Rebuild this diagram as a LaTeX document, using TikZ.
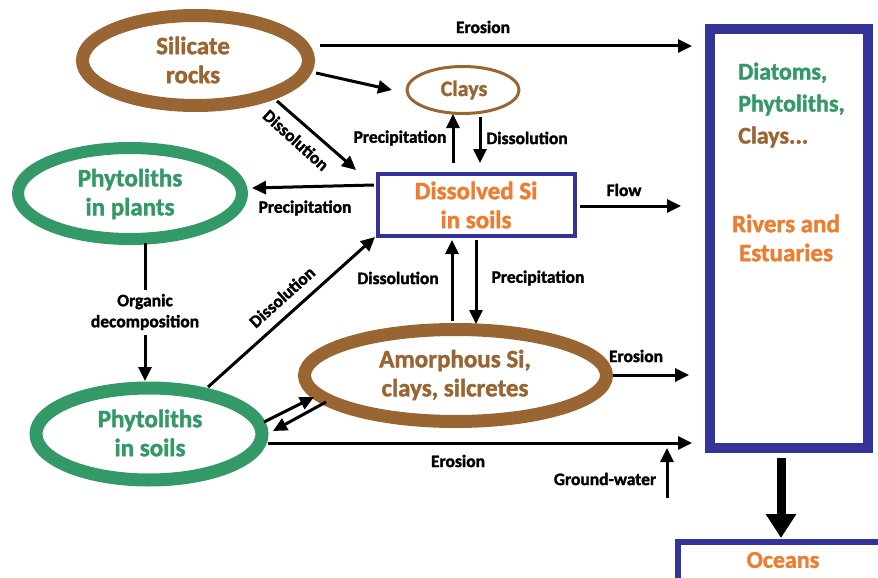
\documentclass[tikz,border=0pt]{standalone}
\usepackage{fontspec}
\setmainfont{Carlito}[BoldFeatures={FakeBold=1.6}]
\usetikzlibrary{arrows.meta,shapes.geometric}
\definecolor{brownc}{RGB}{153,102,51}
\definecolor{greenc}{RGB}{51,153,102}
\definecolor{orangec}{RGB}{237,125,49}
\definecolor{bluec}{RGB}{51,51,153}
\tikzset{
  arr/.style={line width=3pt,-{Triangle[length=14pt,width=13pt]}},
  plain/.style={line width=3pt},
  lab/.style={font=\fontsize{17.5}{21}\selectfont\bfseries,inner sep=0pt,align=center},
  big/.style={font=\fontsize{25}{29}\selectfont\bfseries,align=center,inner sep=0pt},
  ell/.style={ellipse,draw,inner sep=0pt},
  boxb/.style={rectangle,draw=bluec,inner sep=0pt}
}
\begin{document}
\begin{tikzpicture}[x=1pt,y=-1pt]
\useasboundingbox (0,0) rectangle (878,578);
\clip (0,0) rectangle (878,578);
% shapes
\node[ell,draw=brownc,line width=13pt,minimum width=226pt,minimum height=90pt] (sil) at (195.5,60.5) {};
\node[big,text=brownc] (silt) at (193,60) {Silicate\\rocks};
\node[ell,draw=brownc,line width=3pt,minimum width=112pt,minimum height=47pt] (clay) at (463,90) {};
\node[big,text=brownc,font=\fontsize{22}{26}\selectfont\bfseries] (clayt) at (464,90) {Clays};
\node[ell,draw=greenc,line width=12pt,minimum width=224pt,minimum height=91pt] (pp) at (130,193.5) {};
\node[big,text=greenc] (ppt) at (130,194) {Phytoliths\\in plants};
\node[boxb,line width=4pt,minimum width=197pt,minimum height=62pt] (dis) at (476.5,205) {};
\node[big,text=orangec] (dist) at (476,205) {Dissolved Si\\in soils};
\node[ell,draw=greenc,line width=13pt,minimum width=226pt,minimum height=92pt] (ps) at (149,434) {};
\node[big,text=greenc] (pst) at (150,433) {Phytoliths\\in soils};
\node[ell,draw=brownc,line width=13pt,minimum width=302pt,minimum height=92pt] (am) at (455.5,375.5) {};
\node[big,text=brownc] (amt) at (455,375) {Amorphous Si,\\clays, silcretes};
\node[boxb,line width=9.5pt,minimum width=158pt,minimum height=419pt] (riv) at (789,238.5) {};
\node[big,align=left,anchor=west,font=\fontsize{24}{32}\selectfont\bfseries] (rivt1) at (738,105) {\textcolor{greenc}{Diatoms,}\\\textcolor{greenc}{Phytoliths,}\\\textcolor{brownc}{Clays...}};
\node[big,text=orangec] (rivt2) at (786,238) {Rivers and\\Estuaries};
\node[boxb,line width=6pt,minimum width=222pt,minimum height=40pt] (oce) at (789,562) {};
\node[big,text=orangec,font=\fontsize{24}{29}\selectfont\bfseries] (ocet) at (783,560) {Oceans};
% coordinates
\coordinate (a1s) at (320,46); \coordinate (a1e) at (692,46);
\coordinate (a2s) at (316,73); \coordinate (a2e) at (392,90);
\coordinate (a3s) at (277,101); \coordinate (a3e) at (356,170);
\coordinate (a4s) at (453,163); \coordinate (a4e) at (453,114);
\coordinate (a5s) at (480,117); \coordinate (a5e) at (480,163);
\coordinate (a6s) at (374,185); \coordinate (a6e) at (252,188);
\coordinate (a7s) at (580,206); \coordinate (a7e) at (681,206);
\coordinate (a8s) at (145,243); \coordinate (a8m) at (145,290);
\coordinate (a8n) at (145,335); \coordinate (a8e) at (145,381);
\coordinate (a9s) at (208,387); \coordinate (a9e) at (375,237);
\coordinate (a10s) at (452,321); \coordinate (a10e) at (452,240);
\coordinate (a11s) at (476,240); \coordinate (a11e) at (476,324);
\coordinate (a12s) at (613,375); \coordinate (a12e) at (689,375);
\coordinate (a13s) at (264,422); \coordinate (a13e) at (314,397);
\coordinate (a14s) at (326,402); \coordinate (a14e) at (273,431);
\coordinate (a15s) at (268,443); \coordinate (a15e) at (692,443);
\coordinate (a16s) at (667,498); \coordinate (a16e) at (667,448);
\coordinate (a17s) at (781,458); \coordinate (a17e) at (781,538);
% connectors
\draw[arr] (a1s) -- (a1e);
\draw[arr] (a2s) -- (a2e);
\draw[arr] (a3s) -- (a3e);
\draw[arr] (a4s) -- (a4e);
\draw[arr] (a5s) -- (a5e);
\draw[arr] (a6s) -- (a6e);
\draw[arr] (a7s) -- (a7e);
\draw[plain] (a8s) -- (a8m);
\draw[arr] (a8n) -- (a8e);
\draw[arr] (a9s) -- (a9e);
\draw[arr] (a10s) -- (a10e);
\draw[arr] (a11s) -- (a11e);
\draw[arr] (a12s) -- (a12e);
\draw[arr] (a13s) -- (a13e);
\draw[arr] (a14s) -- (a14e);
\draw[arr] (a15s) -- (a15e);
\draw[arr] (a16s) -- (a16e);
\draw[line width=9pt,-{Triangle[length=24pt,width=29pt]}] (a17s) -- (a17e);
% labels
\node[lab] (l1) at (483,27) {Erosion};
\node[lab,rotate=-42] (l3) at (296,140) {Dissolution};
\node[lab] (l4) at (400,138) {Precipitation};
\node[lab] (l5) at (527,138) {Dissolution};
\node[lab] (l6) at (305,208) {Precipitation};
\node[lab] (l7) at (624,190) {Flow};
\node[lab] (l8) at (145,312) {Organic\\decomposition};
\node[lab,rotate=42] (l9) at (282,297) {Dissolution};
\node[lab] (l10) at (398,278) {Dissolution};
\node[lab] (l11) at (538,278) {Precipitation};
\node[lab] (l12) at (636,356) {Erosion};
\node[lab] (l15) at (458,461) {Erosion};
\node[lab] (l16) at (605,479) {Ground-water};
\end{tikzpicture}
\end{document}
